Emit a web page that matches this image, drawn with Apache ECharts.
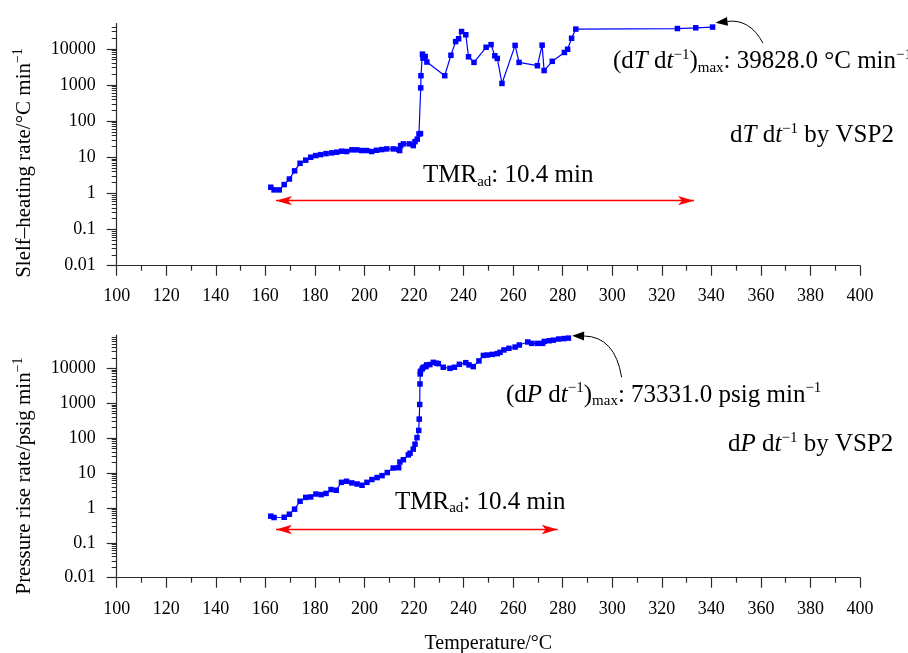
<!DOCTYPE html>
<html>
<head>
<meta charset="utf-8">
<script src="https://cdn.jsdelivr.net/npm/echarts@6/dist/echarts.min.js"></script>
<style>
  html, body { margin: 0; padding: 0; background: #fff; }
  #chart { width: 908px; height: 653px; }
</style>
</head>
<body>
<div id="chart"></div>
<script>
// dT/dt curve (self-heating rate)
const tempT = [162.2, 163.5, 165.6, 167.6, 169.7, 171.8, 174.0, 176.3, 178.3, 180.3, 182.3, 184.5, 186.8, 188.8, 190.8, 192.8, 194.9, 196.9, 198.9, 200.9, 202.9, 204.9, 207.0, 209.0, 211.6, 213.8, 214.2, 214.6, 215.7, 218.1, 219.7, 220.4, 221.3, 222.0, 222.6, 222.7, 222.8, 223.4, 223.6, 224.5, 225.2, 232.4, 234.9, 236.8, 238.0, 239.2, 240.9, 242.0, 244.2, 249.1, 251.1, 252.6, 253.6, 255.5, 260.8, 262.4, 269.8, 271.7, 272.5, 275.8, 280.7, 282.0, 283.6, 285.3, 326.3, 333.7, 340.5]
const rateT = [1.48, 1.25, 1.25, 1.75, 2.5, 4.2, 6.8, 8.3, 10, 11.1, 11.8, 12.6, 13.2, 13.8, 14.7, 14.4, 16, 16, 15.3, 15.3, 14.4, 15.6, 16.3, 17, 17, 16.5, 15.3, 21, 23.4, 23.4, 21, 27, 31.6, 44, 45, 830, 1800, 7100, 5500, 6100, 4300, 1800, 6600, 15800, 18900, 30000, 24400, 6000, 4200, 11000, 13000, 6400, 5400, 1100, 12400, 4200, 3400, 12600, 2500, 4500, 7900, 9700, 19500, 35000, 36300, 38000, 39828]

// dP/dt curve (pressure rise rate)
const tempP = [162.2, 163.5, 167.6, 169.7, 171.8, 174.0, 176.3, 178.3, 180.4, 182.5, 184.5, 186.5, 188.6, 190.7, 192.8, 194.9, 197.0, 199.0, 201.0, 203.0, 205.1, 207.1, 209.2, 211.6, 213.8, 214.3, 215.7, 217.7, 218.4, 219.7, 220.4, 221.2, 221.9, 222.1, 222.3, 222.4, 222.5, 222.6, 223.3, 223.7, 224.8, 225.1, 226.4, 227.8, 229.1, 229.8, 231.8, 234.5, 236.3, 238.3, 240.9, 242.2, 243.9, 246.2, 248.0, 249.6, 251.6, 253.6, 254.7, 256.3, 258.3, 260.8, 262.5, 265.9, 267.5, 269.8, 271.9, 272.6, 274.6, 276.2, 278.4, 280.5, 282.3]
const rateP = [0.58, 0.53, 0.54, 0.66, 0.92, 1.55, 2.0, 2.06, 2.5, 2.4, 2.6, 3.35, 3.2, 5.4, 5.8, 5.2, 4.85, 4.45, 5.4, 6.5, 7.4, 8.4, 10.3, 13.9, 14.2, 20.6, 24, 33, 37, 48.5, 67, 103, 166, 350, 920, 3560, 6900, 8200, 9600, 10700, 11200, 12500, 12800, 14800, 14000, 13600, 10700, 10000, 10700, 13000, 14500, 12500, 11200, 16300, 23400, 24000, 25000, 26300, 28600, 33600, 37400, 40600, 46500, 56800, 51800, 51800, 51800, 59000, 61700, 64000, 69000, 71000, 73331]

// axes
const yMajor = [0.01, 0.1, 1, 10, 100, 1000, 10000]
const yMaxTop = 50000
const yMaxBottom = 90000

// TMR arrows: [start temp, end temp], level
const tmrT = [164.3, 333.0]
const tmrTLevel = 0.63
const tmrP = [164.3, 278.0]
const tmrPLevel = 0.24

// curved pointer to the max: [from, control, tip]
const peakArrowT = [[360.8, 14400], [355.6, 67600], [341.7, 52500]]
const peakArrowP = [[303.8, 5530], [301.1, 80500], [283.8, 86000]]

const FONT = 'Liberation Serif'
const AXIS_COLOR = '#2a2a2a'

function minorValues(max) {
  const out = []
  yMajor.forEach((d) => {
    for (let k = 2; k <= 9; k++) {
      const v = +(k * d).toPrecision(3)
      if (v < max) out.push(v)
    }
  })
  return out
}

function makeX(gi, withName) {
  return {
    type: 'value',
    gridIndex: gi,
    min: 100,
    max: 400,
    interval: 20,
    name: withName ? 'Temperature/°C' : '',
    nameLocation: 'middle',
    nameGap: 56,
    nameTextStyle: { fontFamily: FONT, fontSize: 20, color: '#000' },
    axisLine: { show: true, onZero: false, lineStyle: { color: AXIS_COLOR, width: 1.2 } },
    axisTick: { show: true, length: 10, lineStyle: { color: AXIS_COLOR, width: 1.2 } },
    minorTick: { show: true, splitNumber: 2, length: 5, lineStyle: { color: AXIS_COLOR, width: 1.2 } },
    splitLine: { show: false },
    minorSplitLine: { show: false },
    axisLabel: { color: '#000', fontFamily: FONT, fontSize: 18, margin: gi === 0 ? 22 : 23 }
  }
}

function makeY(gi, max) {
  return {
    type: 'log',
    logBase: 10,
    gridIndex: gi,
    position: 'left',
    min: 0.01,
    max: max,
    axisLine: { show: true, onZero: false, lineStyle: { color: AXIS_COLOR, width: 1.2 } },
    axisTick: { show: true, length: 10, customValues: yMajor, lineStyle: { color: AXIS_COLOR, width: 1.2 } },
    splitLine: { show: false },
    axisLabel: {
      customValues: yMajor,
      color: '#000',
      fontFamily: FONT,
      fontSize: 18,
      margin: 21,
      formatter: (v) => String(+(+v).toPrecision(6))
    }
  }
}

// second log axis in each grid only used to draw the minor ticks
function makeYMinor(gi, max) {
  return {
    type: 'log',
    logBase: 10,
    gridIndex: gi,
    position: 'left',
    min: 0.01,
    max: max,
    axisLine: { show: false, onZero: false },
    axisTick: { show: true, length: 5, customValues: minorValues(max), lineStyle: { color: AXIS_COLOR, width: 1 } },
    axisLabel: { show: false },
    splitLine: { show: false }
  }
}

function tmrLine(range, level) {
  return {
    silent: true,
    symbol: ['arrow', 'arrow'],
    label: { show: false },
    lineStyle: { color: '#ff0000', width: 1.3, type: 'solid' },
    itemStyle: { color: '#ff0000' },
    data: [[
      { coord: [range[0], level], symbolSize: [7, 16] },
      { coord: [range[1], level], symbolSize: [7, 16] }
    ]]
  }
}

function curveSeries(gi, temps, rates, ml) {
  return {
    type: 'line',
    xAxisIndex: gi,
    yAxisIndex: gi * 2,
    data: temps.map((t, i) => [t, rates[i]]),
    symbol: 'rect',
    symbolSize: 5.5,
    showAllSymbol: true,
    lineStyle: { color: '#0000ff', width: 1.2 },
    itemStyle: { color: '#0000ff' },
    emphasis: { disabled: true },
    markLine: ml
  }
}

const chart = echarts.init(document.getElementById('chart'), null, { renderer: 'canvas' })

const option = {
  animation: false,
  backgroundColor: '#fff',
  grid: [
    { left: 116.7, right: 48, top: 23.5, height: 242.2, outerBoundsMode: 'none' },
    { left: 116.7, right: 48, top: 335, height: 242.7, outerBoundsMode: 'none' }
  ],
  xAxis: [makeX(0, false), makeX(1, true)],
  yAxis: [makeY(0, yMaxTop), makeYMinor(0, yMaxTop), makeY(1, yMaxBottom), makeYMinor(1, yMaxBottom)],
  series: [
    curveSeries(0, tempT, rateT, tmrLine(tmrT, tmrTLevel)),
    curveSeries(1, tempP, rateP, tmrLine(tmrP, tmrPLevel))
  ]
}
chart.setOption(option)

// text and pointer annotations
const rich = {
  i: { fontFamily: FONT, fontSize: 25, fontStyle: 'italic', lineHeight: 28 },
  sup: { fontFamily: FONT, fontSize: 15, lineHeight: 18, verticalAlign: 'top' },
  sub: { fontFamily: FONT, fontSize: 15, lineHeight: 8, verticalAlign: 'bottom' }
}

function label(x, y, text) {
  return {
    type: 'text',
    x: x,
    y: y,
    silent: true,
    style: {
      text: text,
      fontFamily: FONT,
      fontSize: 25,
      lineHeight: 28,
      fill: '#000',
      align: 'left',
      verticalAlign: 'middle',
      rich: rich
    }
  }
}

function pointer(seriesIndex, pts) {
  const p = pts.map((d) => chart.convertToPixel({ seriesIndex: seriesIndex }, d))
  const from = p[0]
  const cp = p[1]
  const tip = p[2]
  let dx = tip[0] - cp[0]
  let dy = tip[1] - cp[1]
  const len = Math.sqrt(dx * dx + dy * dy)
  dx /= len
  dy /= len
  const L = 12
  const W = 4.5
  const bx = tip[0] - dx * L
  const by = tip[1] - dy * L
  return [
    {
      type: 'bezierCurve',
      silent: true,
      shape: { x1: from[0], y1: from[1], cpx1: cp[0], cpy1: cp[1], x2: bx, y2: by },
      style: { stroke: '#000', lineWidth: 1, fill: null }
    },
    {
      type: 'polygon',
      silent: true,
      shape: { points: [tip, [bx - dy * W, by + dx * W], [bx + dy * W, by - dx * W]] },
      style: { fill: '#000' }
    }
  ]
}

const yRich = {
  sup: { fontFamily: FONT, fontSize: 14, lineHeight: 16, verticalAlign: 'top' }
}

function yTitle(y, text) {
  return {
    type: 'text', x: 24, y: y, rotation: Math.PI / 2, silent: true,
    style: { text: text, fontFamily: FONT, fontSize: 21, lineHeight: 25, fill: '#000', align: 'center', verticalAlign: 'middle', rich: yRich }
  }
}

chart.setOption({
  graphic: [
    label(423, 175.7, 'TMR{sub|ad}: 10.4 min'),
    label(395, 502, 'TMR{sub|ad}: 10.4 min'),
    label(613, 61.7, '(d{i|T} d{i|t}{sup|−1}){sub|max}: 39828.0 °C min{sup|−1}'),
    label(506, 395, '(d{i|P} d{i|t}{sup|−1}){sub|max}: 73331.0 psig min{sup|−1}'),
    label(730, 135.7, 'd{i|T} d{i|t}{sup|−1} by VSP2'),
    label(728, 444.7, 'd{i|P} d{i|t}{sup|−1} by VSP2'),
    yTitle(163, 'Slelf–heating rate/°C min{sup|−1}'),
    yTitle(476, 'Pressure rise rate/psig min{sup|−1}')
  ].concat(pointer(0, peakArrowT), pointer(1, peakArrowP))
})

window.addEventListener('resize', () => chart.resize())
</script>
</body>
</html>
